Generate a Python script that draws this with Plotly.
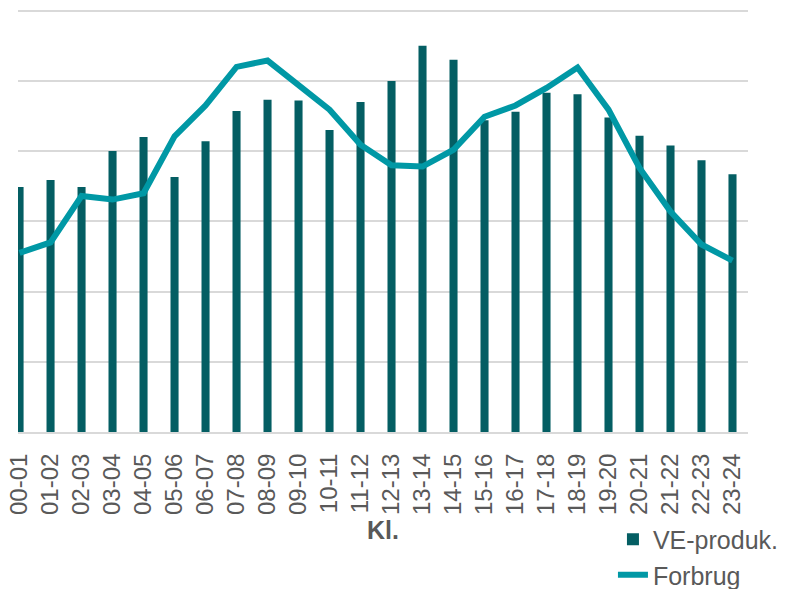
import plotly.graph_objects as go

hours = ["00-01", "01-02", "02-03", "03-04", "04-05", "05-06", "06-07", "07-08",
         "08-09", "09-10", "10-11", "11-12", "12-13", "13-14", "14-15", "15-16",
         "16-17", "17-18", "18-19", "19-20", "20-21", "21-22", "22-23", "23-24"]

ve_produktion = [3.49, 3.59, 3.49, 4.00, 4.20, 3.63, 4.14, 4.57,
                 4.73, 4.72, 4.30, 4.70, 5.00, 5.50, 5.30, 4.44,
                 4.56, 4.83, 4.81, 4.48, 4.22, 4.08, 3.87, 3.67]

forbrug = [2.55, 2.70, 3.36, 3.31, 3.40, 4.21, 4.65, 5.20,
           5.29, 4.95, 4.59, 4.09, 3.80, 3.78, 4.02, 4.49,
           4.65, 4.90, 5.19, 4.59, 3.76, 3.14, 2.67, 2.44]

BAR_COLOR = "#045E63"
LINE_COLOR = "#0098A5"
TEXT_COLOR = "#595959"
GRID_COLOR = "#D9D9D9"
FONT = "Liberation Sans, Arial, sans-serif"

fig = go.Figure()
fig.add_trace(go.Bar(x=hours, y=ve_produktion, name="VE-produk.",
                     marker=dict(color=BAR_COLOR, line=dict(width=0))))
fig.add_trace(go.Scatter(x=hours, y=forbrug, name="Forbrug", mode="lines",
                         line=dict(color=LINE_COLOR, width=6)))

fig.update_layout(
    width=793, height=581,
    margin=dict(l=10, r=53, t=1, b=157, autoexpand=False),
    plot_bgcolor="white", paper_bgcolor="white",
    bargap=0.74,
    font=dict(family=FONT, color=TEXT_COLOR, size=24),
    legend=dict(x=0.815, y=-0.20, xanchor="left", yanchor="top",
                font=dict(size=25, color=TEXT_COLOR), tracegroupgap=0,
                bgcolor="rgba(0,0,0,0)"),
    showlegend=True,
)
fig.update_xaxes(
    type="category", range=[-0.05, 23.5], tickangle=-90,
    tickfont=dict(size=24, color=TEXT_COLOR), automargin=False,
    showline=True, linecolor=GRID_COLOR, linewidth=2,
    ticks="outside", ticklen=10, tickcolor="rgba(0,0,0,0)", showgrid=False,
    title=dict(text="<b>Kl.</b>", font=dict(size=25, color=TEXT_COLOR), standoff=8),
)
fig.update_yaxes(
    range=[0, 6.024], dtick=1, showticklabels=False, automargin=False,
    showgrid=True, gridcolor=GRID_COLOR, gridwidth=2,
    zeroline=False, ticks="",
)

fig.write_html("out.html")
